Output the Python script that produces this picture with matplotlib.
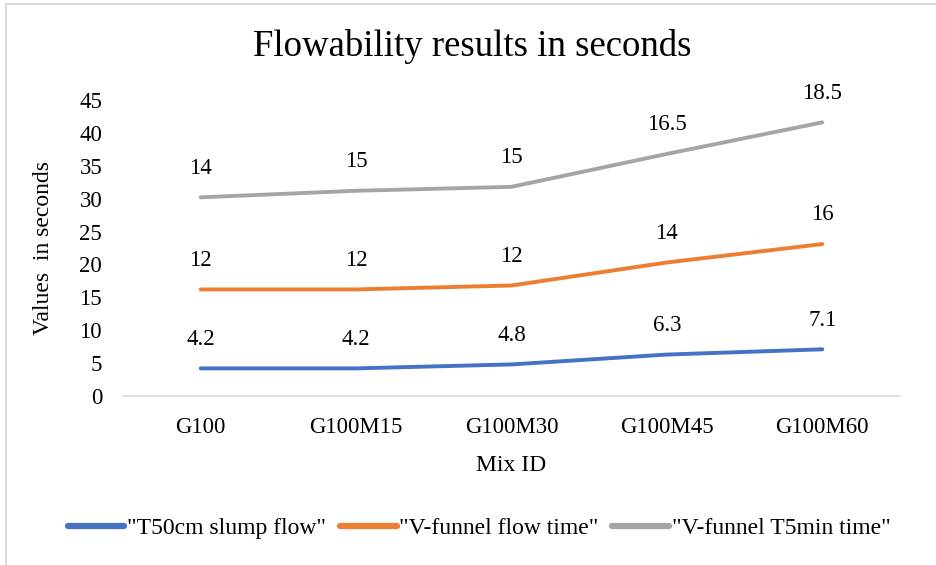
import matplotlib
matplotlib.use("Agg")
import matplotlib.pyplot as plt
import numpy as np
from matplotlib.lines import Line2D

mixes = ["G100", "G100M15", "G100M30", "G100M45", "G100M60"]
t50_slump = [4.2, 4.2, 4.8, 6.3, 7.1]
vfunnel_flow = [12, 12, 12, 14, 16]
vfunnel_t5min = [14, 15, 15, 16.5, 18.5]
series_names = ['"T50cm slump flow"', '"V-funnel flow time"', '"V-funnel T5min time"']
colors = ["#4472C4", "#ED7D31", "#A5A5A5"]
yticks = [0, 5, 10, 15, 20, 25, 30, 35, 40, 45]

plt.rcParams["font.family"] = ["Liberation Serif", "DejaVu Serif"]

fig = plt.figure(figsize=(9.37, 5.65), dpi=100)
W, H = 937, 565
ax = fig.add_axes([123 / W, 1 - 396 / H, (900 - 123) / W, (396 - 100) / H])

# stacked lines: each series sits on top of the previous ones
x = np.arange(len(mixes))
series = [t50_slump, vfunnel_flow, vfunnel_t5min]
base = np.zeros(len(mixes))
for vals, name, c in zip(series, series_names, colors):
    top = base + np.array(vals)
    ax.plot(x, top, color=c, lw=2.8, label=name, solid_capstyle="round")
    for xi, yi, v in zip(x, top, vals):
        ax.annotate(f"{v:g}", (xi, yi), xytext=(0, 21), textcoords="offset points",
                    ha="center", va="center", fontsize=16.5, color="#000000")
    base = top

ax.set_xlim(-0.5, len(mixes) - 0.5)
ax.set_ylim(0, 45)
ax.set_yticks(yticks)
ax.set_xticks(x)
ax.set_xticklabels(mixes)
ax.tick_params(axis="both", length=0, labelsize=16.5, colors="#000000")
ax.tick_params(axis="y", pad=15)
ax.tick_params(axis="x", pad=15)
for s in ["top", "right", "left"]:
    ax.spines[s].set_visible(False)
ax.spines["bottom"].set_color("#D9D9D9")
ax.spines["bottom"].set_linewidth(1.2)

ax.set_xlabel("Mix ID", fontsize=17, labelpad=12)
ax.set_ylabel("Values  in seconds", fontsize=17, labelpad=18)

fig.text(472 / W, 1 - 47 / H, "Flowability results in seconds", ha="center", va="center",
         fontsize=26.5)

leg = fig.legend(loc="center", bbox_to_anchor=(479 / W, 1 - 528 / H), ncol=3, frameon=False,
                 fontsize=17, handlelength=2.4, handletextpad=0.1, columnspacing=0.6)
for line in leg.get_lines():
    line.set_linewidth(4.5)
    line.set_solid_capstyle("round")

# outer frame (top and left edges)
fig.add_artist(Line2D([6 / W, 1], [1 - 4 / H, 1 - 4 / H], transform=fig.transFigure,
                      color="#D9D9D9", lw=1.5))
fig.add_artist(Line2D([6 / W, 6 / W], [0, 1 - 4 / H], transform=fig.transFigure,
                      color="#D9D9D9", lw=1.5))

fig.savefig("out.png", dpi=100)
